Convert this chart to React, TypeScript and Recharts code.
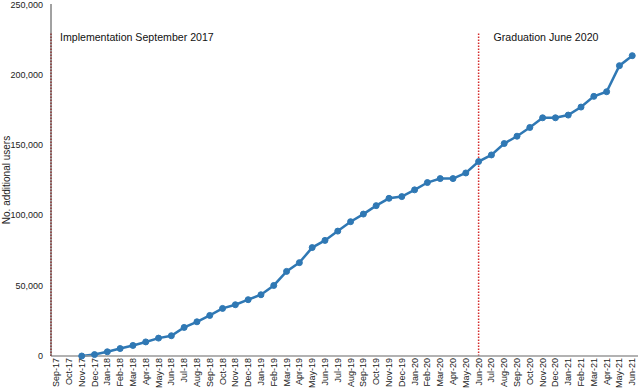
import { LineChart, Line, XAxis, YAxis, ReferenceLine, ReferenceDot } from 'recharts';

const months = [
  'Sep-17', 'Oct-17', 'Nov-17', 'Dec-17',
  'Jan-18', 'Feb-18', 'Mar-18', 'Apr-18', 'May-18', 'Jun-18', 'Jul-18', 'Aug-18', 'Sep-18', 'Oct-18', 'Nov-18', 'Dec-18',
  'Jan-19', 'Feb-19', 'Mar-19', 'Apr-19', 'May-19', 'Jun-19', 'Jul-19', 'Aug-19', 'Sep-19', 'Oct-19', 'Nov-19', 'Dec-19',
  'Jan-20', 'Feb-20', 'Mar-20', 'Apr-20', 'May-20', 'Jun-20', 'Jul-20', 'Aug-20', 'Sep-20', 'Oct-20', 'Nov-20', 'Dec-20',
  'Jan-21', 'Feb-21', 'Mar-21', 'Apr-21', 'May-21', 'Jun-21',
];

const users = [
  null, null, 0, 1000,
  3000, 5300, 7500, 10000, 12700, 14400, 20300, 24300, 28800, 33800, 36400, 40000,
  43500, 50100, 60100, 66300, 77000, 82100, 88700, 95400, 100800, 106800, 112000, 113200,
  118000, 123200, 126000, 126000, 130000, 138100, 142800, 150900, 156100, 162300, 169200, 169200,
  171100, 176800, 184400, 187700, 206200, 213300,
];

const yTicks = [0, 50000, 100000, 150000, 200000, 250000];

const events = [
  { idx: -0.4, label: 'Implementation September 2017', offset: 9 },
  { idx: 33, label: 'Graduation June 2020', offset: 15 },
];

const data = months.map((m, i) => ({ idx: i, month: m, users: users[i] }));

const font = '"Liberation Sans", Arial, sans-serif';

function MonthTick(props: any) {
  const { x, y, payload } = props;
  return (
    <g transform={`translate(${x},${y})`}>
      <text
        transform="rotate(-90)"
        x={-2}
        y={0}
        dy={3}
        textAnchor="end"
        fontSize={9}
        fontFamily={font}
        fill="#222"
      >
        {months[payload.value]}
      </text>
    </g>
  );
}

export default function App() {
  return (
    <div style={{ position: 'fixed', left: 0, top: 0, background: '#fff' }}>
      <LineChart
        width={640}
        height={389}
        data={data}
        margin={{ top: 4, right: 2, left: 0, bottom: 0 }}
      >
        <XAxis
          dataKey="idx"
          type="number"
          domain={[-0.4, 45.45]}
          ticks={months.map((_, i) => i)}
          interval={0}
          tick={<MonthTick />}
          tickLine={false}
          tickSize={0}
          tickMargin={0}
          axisLine={{ stroke: '#999', strokeWidth: 1.5 }}
          height={33}
        />
        <YAxis
          width={51}
          domain={[0, 250000]}
          ticks={yTicks}
          tickFormatter={(v: number) => v.toLocaleString('en-US')}
          tick={{ fontSize: 9, fontFamily: font, fill: '#222' }}
          tickLine={false}
          axisLine={{ stroke: '#444', strokeWidth: 1 }}
          label={{
            value: 'No. additional users',
            angle: -90,
            position: 'insideLeft',
            offset: 6,
            style: { textAnchor: 'middle', fontSize: 10, fontFamily: font, fill: '#222' },
          }}
        />
        {events.map((e) => (
          <ReferenceLine
            key={e.label}
            segment={[{ x: e.idx, y: 0 }, { x: e.idx, y: 230000 }]}
            stroke="#d42a2a"
            strokeWidth={1.5}
            strokeDasharray="1.5 1.5"
            ifOverflow="visible"
          />
        ))}
        {events.map((e) => (
          <ReferenceDot
            key={e.label + '-lbl'}
            x={e.idx}
            y={226500}
            r={0}
            stroke="none"
            fill="none"
            ifOverflow="visible"
            label={{
              value: e.label,
              position: 'right',
              offset: e.offset,
              style: { fontSize: 10.6, fontFamily: font, fill: '#111' },
            }}
          />
        ))}
        <Line
          type="linear"
          dataKey="users"
          stroke="#2f78b4"
          strokeWidth={2.5}
          dot={{ r: 3, fill: '#2f78b4', stroke: '#2f78b4', strokeWidth: 1 }}
          isAnimationActive={false}
        />
      </LineChart>
    </div>
  );
}
